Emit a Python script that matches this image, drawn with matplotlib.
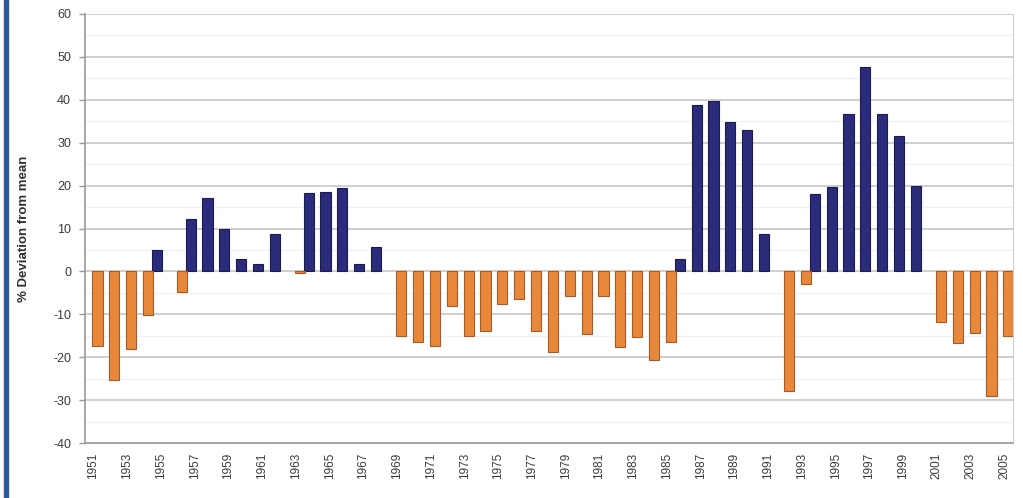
import matplotlib

matplotlib.use("Agg")
import matplotlib.pyplot as plt
from matplotlib.patches import Rectangle
import numpy as np

# Annual % deviation from the long-term mean, 1951-2005
years = list(range(1951, 2006))
deviation = [
    -17.5, -25.3, -18.2, -10.2, 5.1, -4.7, 12.2, 17.0, 10.0, 2.9,
    1.8, 8.8, -0.4, 18.2, 18.5, 19.4, 1.8, 5.8, -15.1, -16.4,
    -17.5, -8.0, -15.1, -13.9, -7.6, -6.5, -13.9, -18.8, -5.7, -14.6,
    -5.7, -17.6, -15.3, -20.6, -16.4, 3.0, 38.8, 39.8, 34.8, 32.9,
    8.7, -27.9, -3.0, 18.1, 19.6, 36.8, 47.6, 36.7, 31.5, 19.8,
    -11.8, -16.7, -14.3, -29.1, -15.1,
]
y_ticks = [-40, -30, -20, -10, 0, 10, 20, 30, 40, 50, 60]

plt.rcParams["font.family"] = ["Liberation Sans", "DejaVu Sans"]

fig = plt.figure(figsize=(10.23, 4.98), dpi=100)
ax = fig.add_axes([0.0831, 0.1104, 0.9069, 0.8615])

x = np.arange(len(years))
dev = np.array(deviation)
above = dev > 0
below = ~above

width = 0.6
ax.bar(x[above] - 0.24, dev[above], width, color="#2b2b7c",
       edgecolor="#1b1b4f", linewidth=0.8, zorder=3)
ax.bar(x[below] + 0.24, dev[below], width, color="#e8883a",
       edgecolor="#a65a28", linewidth=0.8, zorder=3)

ax.set_xlim(-0.5, len(years) - 0.5)
ax.set_ylim(-40, 60)
ax.set_yticks(y_ticks)
ax.set_yticklabels([str(t) for t in y_ticks], fontsize=9, color="#3a3a3a")
ax.set_yticks(np.arange(-35, 60, 10), minor=True)

odd = x[::2]
ax.set_xticks(odd)
ax.set_xticklabels([str(years[i]) for i in odd], rotation=90,
                   fontsize=8.5, color="#3a3a3a")

ax.tick_params(axis="y", which="major", length=4, width=1, color="#999999",
               pad=6)
ax.tick_params(axis="y", which="minor", length=0)
ax.tick_params(axis="x", length=0, pad=7)

ax.grid(axis="y", which="major", color="#cccccc", linewidth=1.3, zorder=0)
ax.grid(axis="y", which="minor", color="#f1f1f1", linewidth=1.0, zorder=0)

for side in ("left", "bottom"):
    ax.spines[side].set_color("#9a9a9a")
    ax.spines[side].set_linewidth(1.2)
ax.spines["right"].set_color("#cfcfcf")
ax.spines["top"].set_visible(False)

fig.text(0.0235, 0.54, "% Deviation from mean", rotation=90,
         fontsize=9.5, fontweight="bold", color="#303030",
         ha="center", va="center")

# blue frame edge on the left
fig.patches.append(Rectangle((0.004, 0.0), 0.004, 1.0,
                             transform=fig.transFigure,
                             color="#2a5b96", zorder=10))

fig.savefig("out.png", dpi=100)
